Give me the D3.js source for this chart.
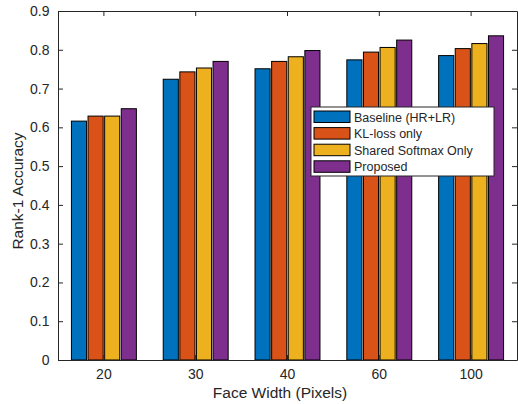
<!DOCTYPE html>
<html>
<head>
<meta charset="utf-8">
<script src="https://cdn.jsdelivr.net/npm/d3@7"></script>
<style>
  body { margin: 0; background: #fff; }
  text { font-family: "Liberation Sans", Arial, sans-serif; fill: #262626; }
</style>
</head>
<body>
<div id="chart"></div>
<script>
// data
const widths = ["20", "30", "40", "60", "100"];
const methods = ["Baseline (HR+LR)", "KL-loss only", "Shared Softmax Only", "Proposed"];
const baseline = [0.616, 0.724, 0.751, 0.774, 0.785];
const klLoss   = [0.629, 0.743, 0.770, 0.794, 0.803];
const shared   = [0.629, 0.753, 0.782, 0.806, 0.816];
const proposed = [0.648, 0.770, 0.798, 0.825, 0.836];
const yTicks = [0, 0.1, 0.2, 0.3, 0.4, 0.5, 0.6, 0.7, 0.8, 0.9];
const colors = ["#0072BD", "#D95319", "#EDB120", "#7E2F8E"];

const series = [baseline, klLoss, shared, proposed];

const W = 518, H = 404;
const margin = {top: 11, right: 1, bottom: 44, left: 58};
const width = W - margin.left - margin.right;
const height = H - margin.top - margin.bottom;

const svg = d3.select("#chart").append("svg")
  .attr("width", W).attr("height", H);
const g = svg.append("g")
  .attr("transform", "translate(" + margin.left + "," + margin.top + ")");

const x0 = d3.scaleBand().domain(widths).range([0, width]).paddingInner(0.26).paddingOuter(0.13);
const x1 = d3.scaleBand().domain(methods).range([0, x0.bandwidth()]).padding(0.09);
const y = d3.scaleLinear().domain([0, 0.9]).range([height, 0]);

// bars
const groups = g.selectAll(".grp")
  .data(widths)
  .enter().append("g")
  .attr("class", "grp")
  .attr("transform", d => "translate(" + x0(d) + ",0)");

groups.selectAll("rect")
  .data((d, i) => methods.map((m, j) => ({m: m, v: series[j][i], c: colors[j]})))
  .enter().append("rect")
  .attr("x", d => x1(d.m))
  .attr("y", d => y(d.v))
  .attr("width", x1.bandwidth())
  .attr("height", d => y(0) - y(d.v))
  .attr("fill", d => d.c)
  .attr("stroke", "#000")
  .attr("stroke-width", 1);

// axes (ticks pointing inward, box on all sides)
const axisColor = "#262626";
const xAxis = d3.axisBottom(x0).tickSizeInner(-5).tickSizeOuter(0).tickPadding(9);
const xTop = d3.axisTop(x0).tickSizeInner(-5).tickSizeOuter(0).tickFormat("");
const yAxis = d3.axisLeft(y).tickValues(yTicks).tickSizeInner(-5).tickSizeOuter(0)
  .tickPadding(8.5).tickFormat(d => d === 0 ? "0" : d3.format(".1f")(d));
const yRight = d3.axisRight(y).tickValues(yTicks).tickSizeInner(-5).tickSizeOuter(0).tickFormat("");

function style(sel) {
  sel.selectAll("path").attr("stroke", axisColor);
  sel.selectAll("line").attr("stroke", axisColor);
  sel.selectAll("text").attr("font-size", 14).attr("fill", axisColor)
    .style("font-family", "'Liberation Sans', Arial, sans-serif");
}

g.append("g").attr("transform", "translate(0," + height + ")").call(xAxis).call(style);
g.append("g").call(xTop).call(style);
g.append("g").call(yAxis).call(style);
g.append("g").attr("transform", "translate(" + width + ",0)").call(yRight).call(style);

// axis labels
svg.append("text")
  .attr("x", 280)
  .attr("y", 398)
  .attr("text-anchor", "middle")
  .attr("font-size", 15.5)
  .text("Face Width (Pixels)");

svg.append("text")
  .attr("transform", "translate(23,191) rotate(-90)")
  .attr("text-anchor", "middle")
  .attr("font-size", 15.5)
  .text("Rank-1 Accuracy");

// legend
const legend = svg.append("g").attr("transform", "translate(311,107)");
legend.append("rect")
  .attr("width", 183).attr("height", 69)
  .attr("fill", "#fff").attr("stroke", axisColor).attr("stroke-width", 1);

const items = legend.selectAll(".item")
  .data(methods)
  .enter().append("g")
  .attr("class", "item")
  .attr("transform", (d, i) => "translate(3," + (4 + i * 16.6) + ")");

items.append("rect")
  .attr("width", 36).attr("height", 11.5)
  .attr("fill", (d, i) => colors[i])
  .attr("stroke", "#000").attr("stroke-width", 1);

items.append("text")
  .attr("x", 40).attr("y", 10.5)
  .attr("font-size", 12.5)
  .text(d => d);
</script>
</body>
</html>
